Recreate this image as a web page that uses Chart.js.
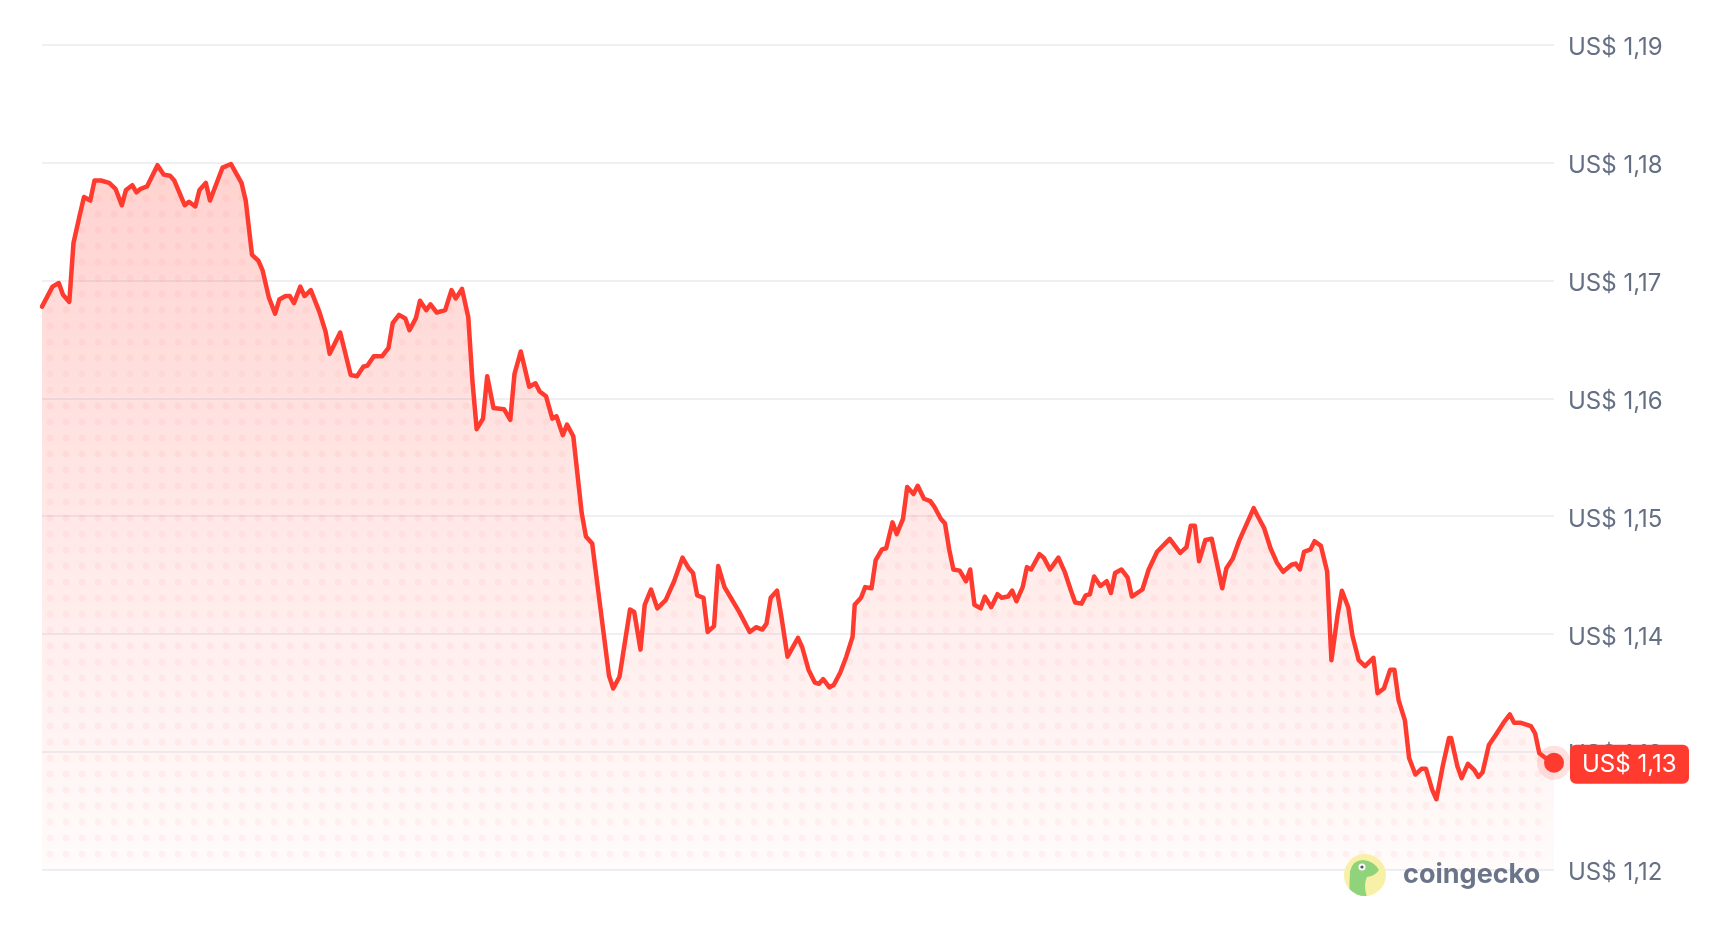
<!DOCTYPE html>
<html>
<head>
<meta charset="utf-8">
<script src="https://cdn.jsdelivr.net/npm/chart.js@4.4.1/dist/chart.umd.min.js"></script>
<style>
  html, body { margin: 0; padding: 0; background: #fff; }
  #chart { display: block; }
</style>
</head>
<body>
<canvas id="chart" width="1728" height="930"></canvas>
<script>
// hours since start of the period
const hours = [
  0, 5, 8, 10, 13, 15, 18, 20, 23, 25, 28, 32, 35, 38, 40, 43, 45, 47, 50, 55,
  58, 61, 63, 68, 70, 73, 75, 78, 80, 86, 90, 95, 97, 100, 103, 105, 108, 111, 113, 116,
  118, 120, 123, 125, 128, 132, 135, 137, 142, 147, 150, 153, 155, 158, 162, 165, 167, 170, 173, 175,
  178, 180, 183, 185, 188, 192, 195, 197, 200, 203, 205, 207, 210, 212, 215, 220, 223, 225, 228, 232,
  235, 237, 240, 243, 245, 248, 250, 253, 257, 259, 262, 266, 270, 272, 275, 280, 282, 285, 287, 290,
  293, 297, 301, 305, 308, 310, 312, 315, 317, 320, 322, 325, 328, 332, 337, 340, 343, 345, 347, 350,
  352, 355, 360, 362, 365, 368, 370, 372, 375, 377, 380, 383, 386, 387, 390, 392, 395, 397, 400, 402,
  405, 407, 410, 412, 415, 417, 420, 423, 425, 428, 430, 432, 434, 437, 440, 442, 444, 447, 449, 452,
  455, 457, 460, 462, 464, 467, 469, 471, 475, 477, 480, 482, 484, 487, 490, 492, 495, 497, 499, 501,
  504, 507, 509, 511, 514, 517, 519, 524, 527, 531, 537, 542, 545, 547, 549, 551, 554, 557, 562, 564,
  567, 570, 577, 579, 582, 585, 588, 591, 595, 597, 599, 601, 604, 606, 609, 612, 614, 617, 619, 622,
  624, 627, 630, 634, 636, 639, 642, 644, 646, 649, 651, 654, 657, 659, 662, 664, 667, 670, 671, 674,
  676, 679, 682, 684, 686, 689, 692, 696, 699, 701, 704, 709, 711, 713, 716, 720
];

// EUR/USD price, US$
const prices = [
  1.1678, 1.1695, 1.1698, 1.1688, 1.1682, 1.1732, 1.1756, 1.1771, 1.1768, 1.1785, 1.1785, 1.1783, 1.1778, 1.1764, 1.1777, 1.1781, 1.1775, 1.1778, 1.1780, 1.1798,
  1.1790, 1.1789, 1.1785, 1.1764, 1.1767, 1.1763, 1.1777, 1.1783, 1.1768, 1.1796, 1.1799, 1.1783, 1.1768, 1.1722, 1.1717, 1.1709, 1.1686, 1.1672, 1.1684, 1.1687,
  1.1687, 1.1681, 1.1695, 1.1687, 1.1692, 1.1674, 1.1657, 1.1638, 1.1656, 1.1620, 1.1619, 1.1627, 1.1628, 1.1636, 1.1636, 1.1643, 1.1664, 1.1671, 1.1668, 1.1658,
  1.1668, 1.1683, 1.1675, 1.1680, 1.1673, 1.1675, 1.1692, 1.1685, 1.1693, 1.1669, 1.1614, 1.1574, 1.1583, 1.1619, 1.1592, 1.1591, 1.1582, 1.1621, 1.1640, 1.1610,
  1.1613, 1.1606, 1.1602, 1.1583, 1.1585, 1.1569, 1.1578, 1.1568, 1.1503, 1.1483, 1.1477, 1.1421, 1.1365, 1.1354, 1.1364, 1.1421, 1.1419, 1.1387, 1.1425, 1.1438,
  1.1422, 1.1429, 1.1445, 1.1465, 1.1456, 1.1452, 1.1433, 1.1431, 1.1402, 1.1407, 1.1458, 1.1440, 1.1431, 1.1419, 1.1402, 1.1406, 1.1404, 1.1409, 1.1431, 1.1437,
  1.1416, 1.1381, 1.1397, 1.1389, 1.1370, 1.1359, 1.1358, 1.1362, 1.1355, 1.1357, 1.1367, 1.1381, 1.1398, 1.1425, 1.1431, 1.1440, 1.1439, 1.1463, 1.1472, 1.1473,
  1.1495, 1.1485, 1.1498, 1.1525, 1.1519, 1.1526, 1.1515, 1.1513, 1.1508, 1.1498, 1.1494, 1.1472, 1.1455, 1.1454, 1.1445, 1.1455, 1.1425, 1.1422, 1.1432, 1.1423,
  1.1434, 1.1431, 1.1432, 1.1437, 1.1428, 1.1440, 1.1457, 1.1455, 1.1468, 1.1465, 1.1455, 1.1460, 1.1465, 1.1453, 1.1437, 1.1427, 1.1426, 1.1433, 1.1434, 1.1449,
  1.1441, 1.1445, 1.1435, 1.1452, 1.1455, 1.1448, 1.1432, 1.1438, 1.1455, 1.1470, 1.1481, 1.1469, 1.1474, 1.1492, 1.1492, 1.1462, 1.1480, 1.1481, 1.1439, 1.1456,
  1.1464, 1.1479, 1.1507, 1.1500, 1.1490, 1.1473, 1.1461, 1.1453, 1.1459, 1.1460, 1.1455, 1.1470, 1.1472, 1.1479, 1.1475, 1.1453, 1.1378, 1.1417, 1.1437, 1.1423,
  1.1399, 1.1378, 1.1373, 1.1380, 1.1350, 1.1354, 1.1370, 1.1370, 1.1344, 1.1327, 1.1295, 1.1281, 1.1286, 1.1286, 1.1268, 1.1260, 1.1288, 1.1312, 1.1312, 1.1288,
  1.1278, 1.1290, 1.1285, 1.1279, 1.1283, 1.1306, 1.1314, 1.1325, 1.1332, 1.1325, 1.1325, 1.1322, 1.1316, 1.1299, 1.1295, 1.1291
];

const yTicks = [1.12, 1.13, 1.14, 1.15, 1.16, 1.17, 1.18, 1.19];

const RED = '#ff3b30';
const fmt = (v) => 'US$ ' + v.toFixed(2).replace('.', ',');

let fillPattern = null;
const makeFill = (chart) => {
  const area = chart.chartArea;
  if (!area) return null;
  if (fillPattern) return fillPattern;
  const off = document.createElement('canvas');
  off.width = chart.width;
  off.height = chart.height;
  const c = off.getContext('2d');
  const grad = c.createLinearGradient(0, area.top, 0, area.bottom);
  grad.addColorStop(0, 'rgba(255,59,48,0.27)');
  grad.addColorStop(0.55, 'rgba(255,59,48,0.12)');
  grad.addColorStop(1, 'rgba(255,59,48,0.02)');
  c.fillStyle = grad;
  c.fillRect(area.left, area.top, area.right - area.left, area.bottom - area.top);
  // halftone dots
  c.fillStyle = 'rgba(255,59,48,0.05)';
  for (let y = area.top + 9; y < area.bottom; y += 16) {
    for (let x = area.left + 8; x < area.right; x += 16) {
      c.beginPath();
      c.arc(x, y, 3.5, 0, Math.PI * 2);
      c.fill();
    }
  }
  fillPattern = chart.ctx.createPattern(off, 'no-repeat');
  return fillPattern;
};

const lastLabel = {
  id: 'lastLabel',
  afterDatasetsDraw(chart) {
    const { ctx, scales } = chart;
    const last = prices[prices.length - 1];
    const x = scales.x.getPixelForValue(hours[hours.length - 1]);
    const y = scales.y.getPixelForValue(last);
    ctx.save();
    // halo round the last point
    ctx.fillStyle = 'rgba(255,59,48,0.15)';
    ctx.beginPath();
    ctx.arc(x, y, 17, 0, Math.PI * 2);
    ctx.fill();
    // price tag
    const bx = scales.y.left + 16;
    ctx.fillStyle = RED;
    ctx.beginPath();
    ctx.roundRect(bx, y - 18, 119, 39, 6);
    ctx.fill();
    ctx.fillStyle = '#fff';
    ctx.font = '24px Inter';
    ctx.textBaseline = 'middle';
    ctx.fillText(fmt(last), bx + 12, y + 2);
    ctx.restore();
  },
  afterDraw(chart) {
    const { ctx } = chart;
    // coingecko watermark
    const cx = 1365, cy = 875, r = 21;
    ctx.save();
    ctx.fillStyle = '#f8f0a6';
    ctx.beginPath();
    ctx.arc(cx, cy, r, 0, Math.PI * 2);
    ctx.fill();
    ctx.clip();
    ctx.fillStyle = '#8fd47b';
    ctx.beginPath();
    ctx.moveTo(cx - 16, cy + 22);
    ctx.lineTo(cx - 15, cy - 4);
    ctx.quadraticCurveTo(cx - 12, cy - 15, cx - 2, cy - 15);
    ctx.quadraticCurveTo(cx + 9, cy - 14, cx + 14, cy - 5);
    ctx.quadraticCurveTo(cx + 10, cy + 1, cx + 2, cy + 2);
    ctx.quadraticCurveTo(cx - 2, cy + 10, cx + 2, cy + 22);
    ctx.closePath();
    ctx.fill();
    ctx.fillStyle = '#fff';
    ctx.beginPath();
    ctx.arc(cx - 3, cy - 8, 3.5, 0, Math.PI * 2);
    ctx.fill();
    ctx.fillStyle = '#4a5568';
    ctx.beginPath();
    ctx.arc(cx - 3, cy - 8, 1.6, 0, Math.PI * 2);
    ctx.fill();
    ctx.restore();

    ctx.save();
    ctx.fillStyle = '#6b7589';
    ctx.font = 'bold 27px Inter';
    ctx.textBaseline = 'alphabetic';
    ctx.fillText('coingecko', 1403, 883);
    ctx.restore();
  }
};

const ctx = document.getElementById('chart').getContext('2d');
const chart = new Chart(ctx, {
  type: 'line',
  data: {
    datasets: [
      {
        data: hours.map((h, i) => ({ x: h, y: prices[i] })),
        borderColor: RED,
        borderWidth: 4.5,
        borderJoinStyle: 'round',
        borderCapStyle: 'round',
        tension: 0,
        clip: false,
        fill: 'start',
        backgroundColor: (c) => makeFill(c.chart),
        pointRadius: (c) => (c.dataIndex === prices.length - 1 ? 10 : 0),
        pointBackgroundColor: RED,
        pointBorderWidth: 0,
        pointHoverRadius: 0,
      },
    ],
  },
  options: {
    responsive: false,
    animation: false,
    events: [],
    layout: { padding: { left: 42, top: 45, bottom: 60, right: 0 } },
    plugins: { legend: { display: false }, tooltip: { enabled: false } },
    scales: {
      x: {
        type: 'linear',
        min: 0,
        max: 720,
        display: false,
      },
      y: {
        position: 'right',
        min: 1.12,
        max: 1.19,
        afterBuildTicks: (s) => {
          s.ticks = yTicks.map((v) => ({ value: v }));
        },
        afterFit: (s) => {
          s.width = 174;
        },
        border: { display: false },
        grid: {
          color: '#eff0f4',
          lineWidth: 2,
          drawTicks: false,
        },
        ticks: {
          padding: 14,
          labelOffset: 3,
          color: '#667085',
          font: { family: 'Inter', size: 24 },
          callback: (v) => fmt(v),
        },
      },
    },
  },
  plugins: [lastLabel],
});
</script>
</body>
</html>
